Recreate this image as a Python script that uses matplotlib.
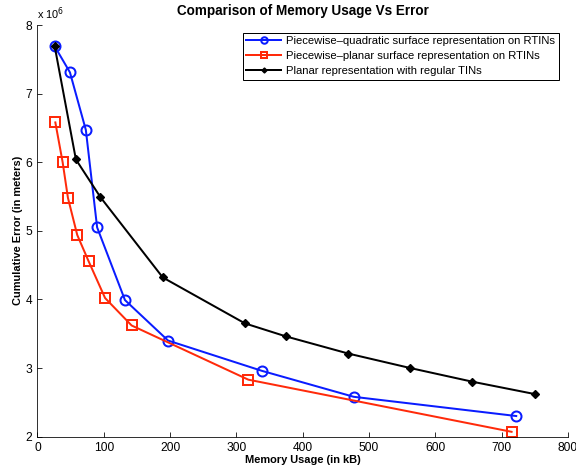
import matplotlib
matplotlib.use("Agg")
import matplotlib.pyplot as plt

plt.rcParams["font.family"] = ["Liberation Sans", "DejaVu Sans"]

# memory usage (kB) and cumulative error (x 10^6 m)
quad_mem = [26, 49, 73, 90, 132, 197, 338, 477, 722]
quad_err = [7.69, 7.31, 6.47, 5.05, 3.99, 3.40, 2.96, 2.58, 2.30]

planar_mem = [27, 38, 46, 60, 77, 102, 142, 318, 715]
planar_err = [6.58, 6.00, 5.48, 4.94, 4.56, 4.02, 3.62, 2.83, 2.07]

tin_mem = [26, 58, 95, 189, 313, 375, 469, 562, 656, 750]
tin_err = [7.69, 6.04, 5.49, 4.32, 3.65, 3.46, 3.21, 3.00, 2.80, 2.62]

labels = [
    "Piecewise\u2013quadratic surface representation on RTINs",
    "Piecewise\u2013planar surface representation on RTINs",
    "Planar representation with regular TINs",
]
x_ticks = [0, 100, 200, 300, 400, 500, 600, 700, 800]
y_ticks = [2, 3, 4, 5, 6, 7, 8]

fig = plt.figure(figsize=(8, 472 / 72), dpi=72)
ax = fig.add_axes([0.065, 0.075, 0.921, 0.872])

ax.plot(quad_mem, quad_err, color="#0a1cff", lw=2, marker="o", ms=10,
        mfc="none", mew=2, label=labels[0])
ax.plot(planar_mem, planar_err, color="#ff2a0a", lw=2, marker="s", ms=10,
        mfc="none", mew=2, label=labels[1])
ax.plot(tin_mem, tin_err, color="black", lw=2, marker="D", ms=5.5,
        mfc="black", mew=1.3, label=labels[2])

ax.set_xlim(0, 800)
ax.set_ylim(2, 8)
ax.set_xticks(x_ticks)
ax.set_yticks(y_ticks)
ax.tick_params(direction="in", labelsize=12, length=5, pad=5)
ax.spines["top"].set_visible(False)
ax.spines["right"].set_visible(False)

ax.set_xlabel("Memory Usage (in kB)", fontsize=11, fontweight="bold", labelpad=1)
ax.set_ylabel("Cumulative Error (in meters)", fontsize=11, fontweight="bold", labelpad=3)
ax.set_title("Comparison of Memory Usage Vs Error", fontsize=13.5, fontweight="bold", pad=10)
ax.text(0.0, 1.008, r"x 10$^{6}$", transform=ax.transAxes, fontsize=11,
        ha="left", va="bottom")

leg = ax.legend(loc="upper right", bbox_to_anchor=(0.987, 0.987), fontsize=11.3,
                fancybox=False, framealpha=1, edgecolor="black",
                handlelength=3.1, borderpad=0.3, labelspacing=0.45, markerscale=0.65,
                borderaxespad=0.2, handletextpad=0.45)
leg.get_frame().set_linewidth(1)

fig.savefig("out.png", dpi=72)
